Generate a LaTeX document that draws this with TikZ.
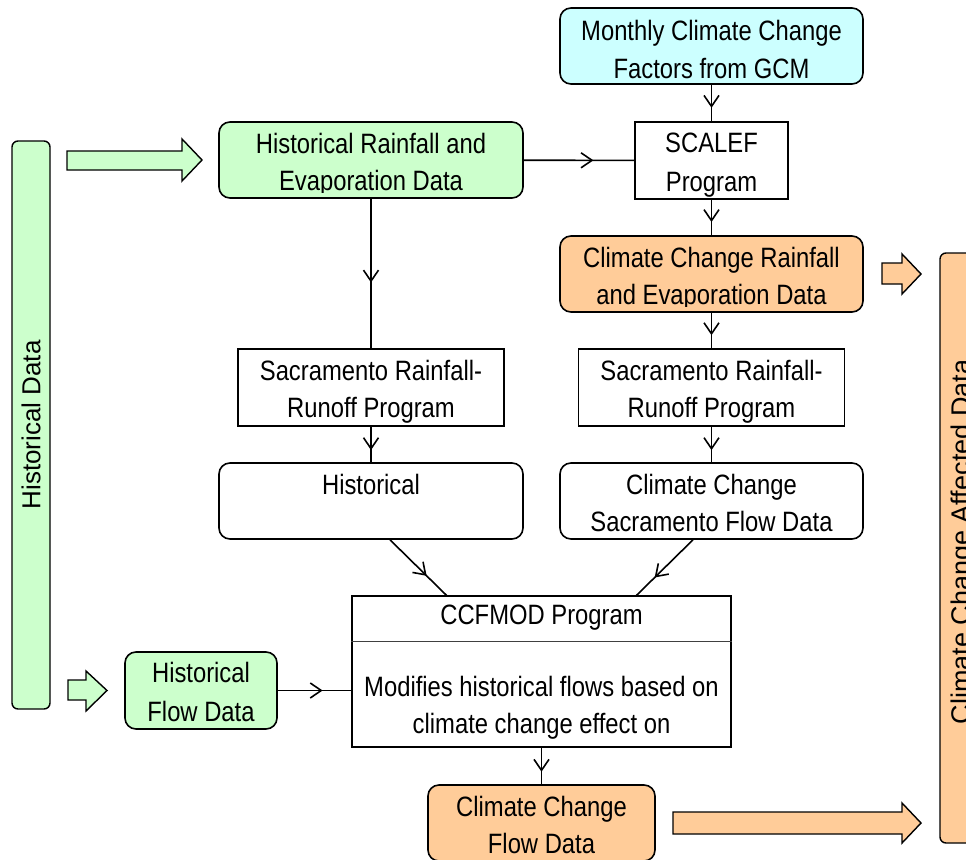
\documentclass[tikz,border=0pt]{standalone}
\usepackage{fontspec}
\setmainfont{Liberation Sans}[FakeStretch=0.85]
\newfontfamily\widefont{Liberation Sans}
\usetikzlibrary{arrows.meta,decorations.markings}
\definecolor{cgreen}{HTML}{CCFFCC}
\definecolor{ccyan}{HTML}{CCFFFF}
\definecolor{corange}{HTML}{FFCC99}
\begin{document}
\begin{tikzpicture}[x=1pt,y=-1pt,
  rbox/.style={draw, line width=1.6pt, rounded corners=11pt, inner sep=0pt},
  pbox/.style={draw, line width=1.3pt, inner sep=0pt, fill=white},
  txt/.style={align=center, inner sep=0pt, anchor=base, font=\fontsize{28}{37.5}\selectfont},
  bar/.style={draw, line width=1.4pt, rounded corners=6pt, inner sep=0pt},
  blk/.style={draw, line width=1.4pt, line join=miter},
  flow/.style={draw, line width=1.6pt, postaction={decorate},
    decoration={markings, mark=at position #1 with {\arrow{Straight Barb[length=11pt,width=15pt]}}}},
  flow/.default=0.63]
\useasboundingbox (0,0) rectangle (966,859);
\clip (0,0) rectangle (966,859);

% side bars
\node[bar, fill=cgreen, minimum width=38pt, minimum height=568pt] (lbar) at (31,425) {};
\node[rotate=90, inner sep=0pt, font=\widefont\fontsize{26}{30}\selectfont] (lbart) at (lbar.center) {Historical Data};
\node[bar, fill=corange, minimum width=44pt, minimum height=590pt] (rbar) at (962,548) {};
\node[rotate=90, inner sep=0pt, font=\widefont\fontsize{27}{30}\selectfont] (rbart) at ([xshift=2pt,yshift=6pt]rbar.center) {Climate Change Affected Data};

% boxes
\node[rbox, fill=ccyan, minimum width=303pt, minimum height=76pt] (gcm) at (711.5,46) {};
\node[txt] (gcmt) at ([yshift=-71.2pt]gcm.north) {Monthly Climate Change\\Factors from GCM};

\node[pbox, minimum width=153pt, minimum height=77pt] (scalef) at (711.5,160.5) {};
\node[txt, font=\fontsize{28}{39}\selectfont] (scaleft) at ([yshift=-70pt]scalef.north) {SCALEF\\Program};

\node[rbox, fill=cgreen, minimum width=304pt, minimum height=76pt] (hr) at (371,160) {};
\begin{scope}
\clip (hr.north west) rectangle ([yshift=6pt]hr.south east);
\node[txt] (hrt) at ([yshift=-69.5pt]hr.north) {Historical Rainfall and\\Evaporation Data};
\end{scope}

\node[rbox, fill=corange, minimum width=303pt, minimum height=76pt] (ccr) at (711.5,274) {};
\begin{scope}
\clip (ccr.north west) rectangle ([yshift=6pt]ccr.south east);
\node[txt] (ccrt) at ([yshift=-69.5pt]ccr.north) {Climate Change Rainfall\\and Evaporation Data};
\end{scope}

\node[pbox, minimum width=266pt, minimum height=77pt] (sacl) at (371,387.5) {};
\node[txt] (saclt) at ([yshift=-69.5pt]sacl.north) {Sacramento Rainfall-\\Runoff Program};
\node[pbox, minimum width=266pt, minimum height=77pt] (sacr) at (711.5,387.5) {};
\node[txt] (sacrt) at ([yshift=-69.5pt]sacr.north) {Sacramento Rainfall-\\Runoff Program};

\node[rbox, fill=white, minimum width=304pt, minimum height=76pt] (hist) at (371,501) {};
\node[txt] (histt) at ([yshift=-32pt]hist.north) {Historical};
\node[rbox, fill=white, minimum width=303pt, minimum height=76pt] (ccsf) at (711.5,501) {};
\node[txt] (ccsft) at ([yshift=-69.5pt]ccsf.north) {Climate Change\\Sacramento Flow Data};

\node[pbox, minimum width=379pt, minimum height=151pt] (ccf) at (541.5,671.5) {};
\draw[line width=1pt, black!75] ([yshift=-46pt]ccf.north west) -- ([yshift=-46pt]ccf.north east);
\node[txt] (ccft) at ([yshift=-29pt]ccf.north) {CCFMOD Program};
\node[txt] (ccfb) at ([yshift=-138.5pt]ccf.north) {Modifies historical flows based on\\climate change effect on};

\node[rbox, fill=cgreen, minimum width=152pt, minimum height=77pt] (hfd) at (201,690.5) {};
\node[txt, font=\fontsize{28}{39}\selectfont] (hfdt) at ([yshift=-70pt]hfd.north) {Historical\\Flow Data};

\node[rbox, fill=corange, minimum width=227pt, minimum height=76pt] (ccfd) at (541.5,823) {};
\node[txt] (ccfdt) at ([yshift=-69.5pt]ccfd.north) {Climate Change\\Flow Data};

% connectors
\draw[flow] (gcm) -- (scalef);
\draw[flow] (hr) -- (scalef);
\draw[flow] (scalef) -- (ccr);
\draw[flow=0.56] (hr) -- (sacl);
\draw[flow] (ccr) -- (sacr);
\draw[flow=0.66] (sacl) -- (hist);
\draw[flow=0.66] (sacr) -- (ccsf);
\draw[flow=0.65] ([xshift=19pt]hist.south) -- ([xshift=-95pt]ccf.north);
\draw[flow=0.68] ([xshift=-18.5pt]ccsf.south) -- ([xshift=95pt]ccf.north);
\draw[flow=0.61] (hfd.east) -- (hfd.east -| ccf.west);
\draw[flow=0.66] (ccf) -- (ccfd);

% block arrows
\draw[blk, fill=cgreen] (67,151) -- (182,151) -- (182,139) -- (202,160) -- (182,181) -- (182,170) -- (67,170) -- cycle;
\draw[blk, fill=cgreen] (68,680) -- (86,680) -- (86,671) -- (107,690.5) -- (86,711) -- (86,700) -- (68,700) -- cycle;
\draw[blk, fill=corange] (882,263) -- (902,263) -- (902,254) -- (921,274) -- (902,294) -- (902,284) -- (882,284) -- cycle;
\draw[blk, fill=corange] (673,812) -- (902,812) -- (902,803) -- (921,823) -- (902,843) -- (902,834) -- (673,834) -- cycle;
\end{tikzpicture}
\end{document}
